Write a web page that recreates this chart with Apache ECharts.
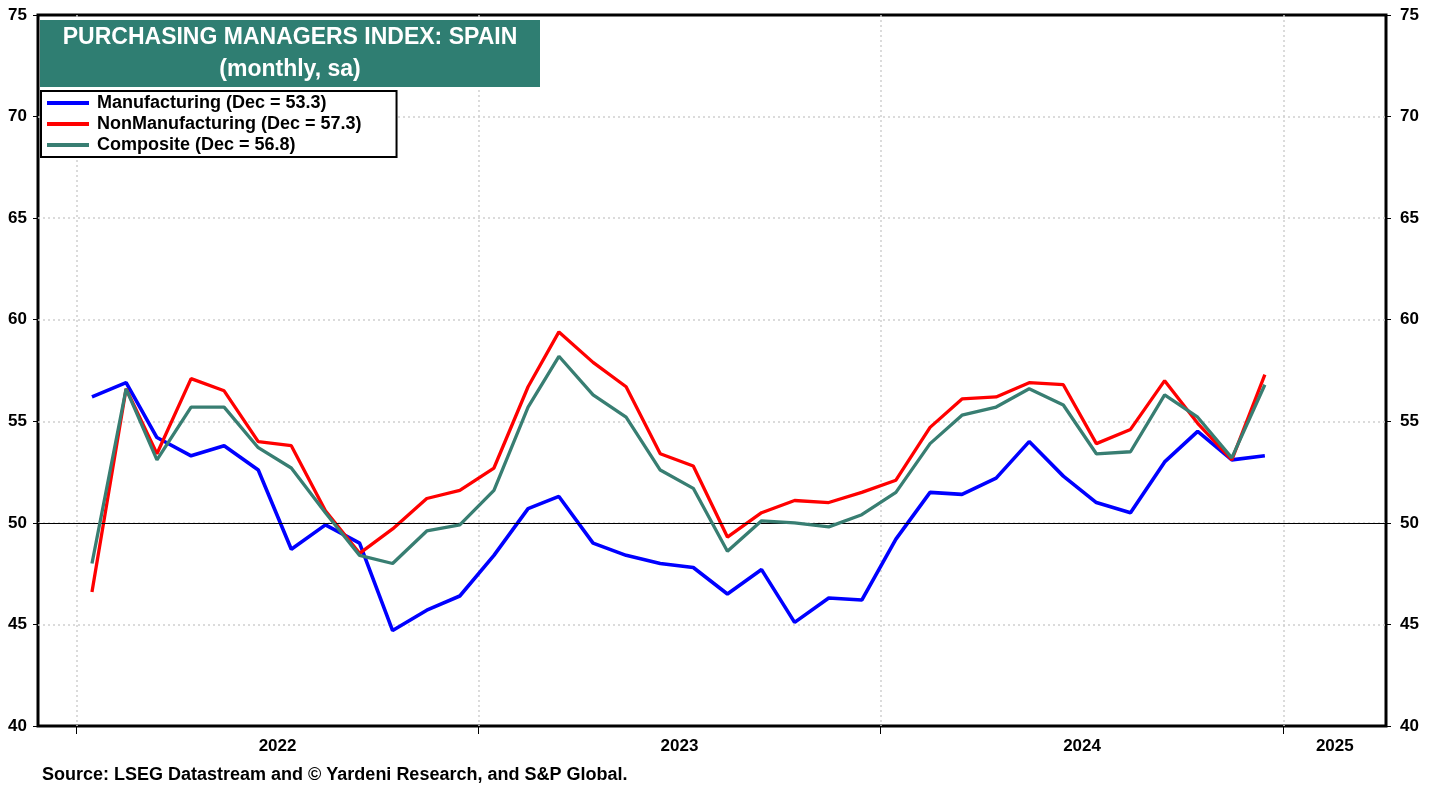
<!DOCTYPE html>
<html>
<head>
<meta charset="utf-8">
<script src="https://cdn.jsdelivr.net/npm/echarts@6/dist/echarts.min.js"></script>
<style>
  html, body { margin: 0; padding: 0; background: #fff; }
  #chart { width: 1439px; height: 789px; }
</style>
</head>
<body>
<div id="chart"></div>
<script>
// monthly months, Jan 2022 .. Dec 2024
var months = [];
for (var y = 2022; y <= 2024; y++) {
    for (var m = 1; m <= 12; m++) {
        months.push(y + '-' + (m < 10 ? '0' + m : m) + '-15');
    }
}

var manufacturing = [
    56.2, 56.9, 54.2, 53.3, 53.8, 52.6, 48.7, 49.9, 49.0, 44.7, 45.7, 46.4,
    48.4, 50.7, 51.3, 49.0, 48.4, 48.0, 47.8, 46.5, 47.7, 45.1, 46.3, 46.2,
    49.2, 51.5, 51.4, 52.2, 54.0, 52.3, 51.0, 50.5, 53.0, 54.5, 53.1, 53.3
];
var nonManufacturing = [
    46.6, 56.6, 53.4, 57.1, 56.5, 54.0, 53.8, 50.6, 48.5, 49.7, 51.2, 51.6,
    52.7, 56.7, 59.4, 57.9, 56.7, 53.4, 52.8, 49.3, 50.5, 51.1, 51.0, 51.5,
    52.1, 54.7, 56.1, 56.2, 56.9, 56.8, 53.9, 54.6, 57.0, 54.9, 53.1, 57.3
];
var composite = [
    48.0, 56.6, 53.1, 55.7, 55.7, 53.7, 52.7, 50.5, 48.4, 48.0, 49.6, 49.9,
    51.6, 55.7, 58.2, 56.3, 55.2, 52.6, 51.7, 48.6, 50.1, 50.0, 49.8, 50.4,
    51.5, 53.9, 55.3, 55.7, 56.6, 55.8, 53.4, 53.5, 56.3, 55.2, 53.2, 56.8
];
var seriesNames = [
    'Manufacturing (Dec = 53.3)',
    'NonManufacturing (Dec = 57.3)',
    'Composite (Dec = 56.8)'
];
var yearLabels = ['2022', '2023', '2024', '2025'];

var xMin = Date.parse('2021-11-27');
var xMax = Date.parse('2025-04-04');

// ticks at year starts, labels in the middle of the visible part of each year
var yearTicks = yearLabels.map(function (yr) { return Date.parse(yr + '-01-01'); });
var yearMids = yearLabels.map(function (yr) {
    var a = Math.max(Date.parse(yr + '-01-01'), xMin);
    var b = Math.min(Date.parse((+yr + 1) + '-01-01'), xMax);
    return (a + b) / 2;
});

function pairs(vals) {
    return vals.map(function (v, i) { return [Date.parse(months[i]), v]; });
}

var FONT = 'Liberation Sans, Arial, sans-serif';
var bold = { fontFamily: FONT, fontWeight: 'bold', color: '#000' };
var gridLine = { color: '#d0d0d0', type: [2, 3], width: 1.5 };

var chart = echarts.init(document.getElementById('chart'));

var option = {
    animation: false,
    backgroundColor: '#fff',
    grid: {
        left: 38, right: 53, top: 15, bottom: 63,
        show: true, borderColor: '#000', borderWidth: 3, backgroundColor: 'transparent'
    },
    xAxis: {
        type: 'value',
        min: xMin, max: xMax,
        axisLine: { show: false },
        axisTick: { show: true, length: 8, customValues: yearTicks, lineStyle: { color: '#000', width: 1 } },
        axisLabel: Object.assign({
            show: true, fontSize: 17, margin: 12,
            customValues: yearMids,
            formatter: function (v) { return String(new Date(v).getUTCFullYear()); }
        }, bold),
        splitLine: { show: true, showMinLine: true, showMaxLine: true, lineStyle: gridLine },
        minorTick: { show: false }
    },
    yAxis: [{
        type: 'value', min: 40, max: 75, interval: 5, position: 'left',
        axisLine: { show: false },
        axisTick: { show: true, length: 5, lineStyle: { color: '#000' } },
        axisLabel: Object.assign({ fontSize: 17, margin: 11 }, bold),
        splitLine: { show: true, showMinLine: false, showMaxLine: false, lineStyle: gridLine }
    }, {
        type: 'value', min: 40, max: 75, interval: 5, position: 'right',
        axisLine: { show: false },
        axisTick: { show: true, length: 5, lineStyle: { color: '#000' } },
        axisLabel: Object.assign({ fontSize: 17, margin: 14 }, bold),
        splitLine: { show: false }
    }],
    legend: {
        orient: 'vertical',
        left: 41, top: 91,
        data: seriesNames,
        icon: 'rect',
        itemWidth: 42, itemHeight: 4, itemGap: 3,
        padding: [3, 35, 3, 6],
        backgroundColor: '#fff',
        borderColor: '#000', borderWidth: 2, borderRadius: 0,
        textStyle: Object.assign({ fontSize: 18, lineHeight: 18, padding: [0, 0, 0, 3] }, bold)
    },
    graphic: [{
        type: 'rect',
        shape: { x: 40, y: 20, width: 500, height: 67 },
        style: { fill: '#2f7e72' },
        z: 10
    }, {
        type: 'text',
        x: 290, y: 38,
        style: {
            text: 'PURCHASING MANAGERS INDEX: SPAIN',
            fill: '#fff', font: 'bold 23px ' + FONT,
            align: 'center', verticalAlign: 'middle'
        },
        z: 11
    }, {
        type: 'text',
        x: 290, y: 70,
        style: {
            text: '(monthly, sa)',
            fill: '#fff', font: 'bold 23px ' + FONT,
            align: 'center', verticalAlign: 'middle'
        },
        z: 11
    }, {
        type: 'text',
        x: 42, y: 775,
        style: {
            text: 'Source: LSEG Datastream and \u00a9 Yardeni Research, and S&P Global.',
            fill: '#000', font: 'bold 18px ' + FONT,
            verticalAlign: 'middle'
        }
    }],
    series: [{
        name: seriesNames[0],
        type: 'line',
        data: pairs(manufacturing),
        symbol: 'none',
        lineStyle: { color: '#0000ff', width: 3.6 },
        itemStyle: { color: '#0000ff' },
        z: 3,
        markLine: {
            silent: true, symbol: 'none', label: { show: false },
            lineStyle: { color: '#000', type: 'solid', width: 1 },
            data: [{ yAxis: 50 }]
        }
    }, {
        name: seriesNames[1],
        type: 'line',
        data: pairs(nonManufacturing),
        symbol: 'none',
        lineStyle: { color: '#ff0000', width: 3.3 },
        itemStyle: { color: '#ff0000' },
        z: 4
    }, {
        name: seriesNames[2],
        type: 'line',
        data: pairs(composite),
        symbol: 'none',
        lineStyle: { color: '#387e72', width: 3.3 },
        itemStyle: { color: '#387e72' },
        z: 5
    }]
};

chart.setOption(option);
</script>
</body>
</html>
